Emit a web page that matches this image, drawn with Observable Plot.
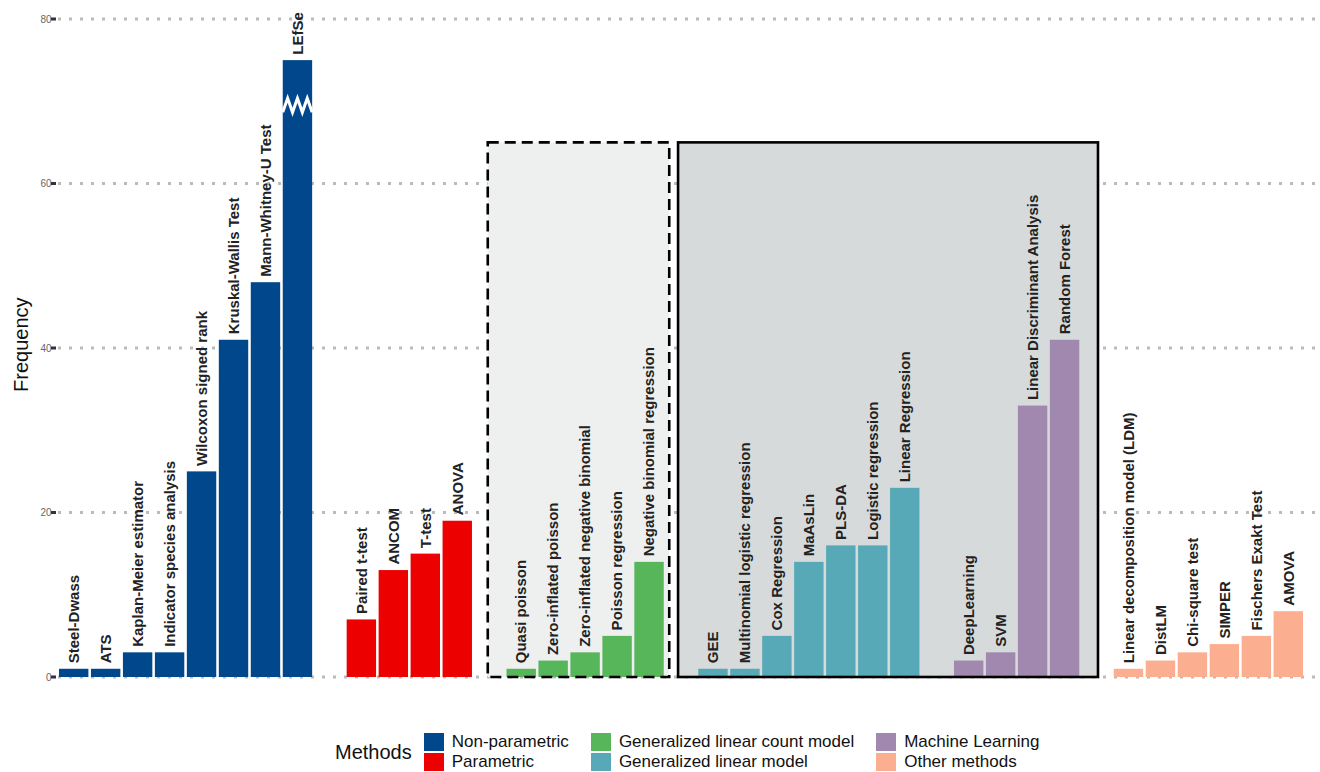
<!DOCTYPE html>
<html><head><meta charset="utf-8">
<script src="https://cdn.jsdelivr.net/npm/d3@7"></script>
<script src="https://cdn.jsdelivr.net/npm/@observablehq/plot@0.6"></script>
<style>
body{margin:0;background:#fff;font-family:"Liberation Sans",Arial,sans-serif}
#legend{display:flex;align-items:center;margin-left:335px;margin-top:32px;font-size:17px;color:#111}
#legend .t{font-size:20px;margin-right:12px}
#legend .col{display:flex;flex-direction:column;margin-right:22px}
#legend .it{display:flex;align-items:center;height:20px}
#legend .sw{width:20px;height:18px;margin-right:8px}
</style></head><body>
<div id="chart"></div>
<div id="legend"></div>
<script>
const groups = ["Non-parametric","Parametric","Generalized linear count model","Generalized linear model","Machine Learning","Other methods"]
const colors = ["#00478b","#ec0000","#57b55a","#58a9b7","#a088ae","#fcae91"]
const methods = [
  ["Steel-Dwass","ATS","Kaplan-Meier estimator","Indicator species analysis","Wilcoxon signed rank","Kruskal-Wallis Test","Mann-Whitney-U Test","LEfSe"],
  ["Paired t-test","ANCOM","T-test","ANOVA"],
  ["Quasi poisson","Zero-inflated poisson","Zero-inflated negative binomial","Poisson regression","Negative binomial regression"],
  ["GEE","Multinomial logistic regression","Cox Regression","MaAsLin","PLS-DA","Logistic regression","Linear Regression"],
  ["DeepLearning","SVM","Linear Discriminant Analysis","Random Forest"],
  ["Linear decomposition model (LDM)","DistLM","Chi-square test","SIMPER","Fischers Exakt Test","AMOVA"]
]
const counts = [
  [1,1,3,3,25,41,48,75],
  [7,13,15,19],
  [1,2,3,5,14],
  [1,1,5,14,16,16,23],
  [2,3,33,41],
  [1,2,3,4,5,8]
]
const yTicks = [0,20,40,60,80]
const boxTop = 65

const data = []
const domain = []
groups.forEach((g,i) => {
  methods[i].forEach((m,j) => { data.push({method:m, n:counts[i][j], group:g}); domain.push(m) })
  if (i < groups.length-1) domain.push("gap"+i)
})

const chart = Plot.plot({
  width: 1320, height: 700,
  marginLeft: 59, marginRight: 17, marginTop: 19, marginBottom: 23,
  x: {domain, padding: 0.08, paddingOuter: 0, axis: null},
  y: {domain: [0,80], ticks: yTicks, label: null, tickSize: 0, tickPadding: 8},
  color: {domain: groups, range: colors},
  style: {fontFamily: "Liberation Sans, Arial, sans-serif", fontSize: "10px", color: "#666"},
  marks: [
    Plot.barY(data, {x: "method", y: "n", fill: "group"}),
    Plot.text(data, {x: "method", y: "n", text: "method", rotate: -90, textAnchor: "start", dy: -6,
      fontWeight: "bold", fontSize: 15, fill: "#222"})
  ]
})
d3.select('#chart').append(() => chart)

// boxes, grid and details drawn with the plot's own scales
const sx = chart.scale("x"), sy = chart.scale("y")
const svg = d3.select(chart)
const bw = sx.bandwidth
const xs = d => sx.apply(d)
const yTop = sy.apply(boxTop), y0 = sy.apply(0)
const first = svg.select("g[aria-label=bar]").node()
yTicks.forEach(t => svg.insert("line", () => first).attr("x1", 58).attr("x2", 1320).attr("y1", sy.apply(t)).attr("y2", sy.apply(t))
  .attr("stroke", "#bbb").attr("stroke-width", 3).attr("stroke-dasharray", "3,8"))
function box(x1, x2, fill, dash) {
  svg.insert("rect", () => first).attr("x", x1).attr("y", yTop).attr("width", x2-x1).attr("height", y0-yTop)
    .attr("fill", fill)
  svg.append("rect").attr("x", x1).attr("y", yTop).attr("width", x2-x1).attr("height", y0-yTop)
    .attr("fill", "none").attr("stroke", "#000").attr("stroke-width", 2.6).attr("stroke-dasharray", dash)
}
box(xs("gap1") + bw*0.45, xs("gap2") + bw*0.1, "#eef0f0", "11,6")
box(xs("gap2") + bw*0.4, xs("gap4") + bw*0.55, "#d6dadb", null)
yTicks.forEach(t => svg.append("rect").attr("x", 51).attr("y", sy.apply(t)-1.5).attr("width", 5).attr("height", 3).attr("fill", "#333"))
svg.append("text").attr("transform", `translate(28,${(yTop+y0)/2 - 65}) rotate(-90)`).attr("text-anchor","middle")
  .attr("font-size", 20).attr("fill", "#111").text("Frequency")
// axis break on LEfSe
const lx = xs("LEfSe"), zy = sy.apply(69.5)
const pts = d3.range(0, 7).map(k => [lx + k*bw/6, zy + (k%2 ? -7 : 7)])
svg.append("path").attr("d", d3.line()(pts)).attr("fill", "none").attr("stroke", "#fff").attr("stroke-width", 3)

// legend
const lg = d3.select("#legend")
lg.append("div").attr("class", "t").text("Methods")
for (let c = 0; c < 3; c++) {
  const col = lg.append("div").attr("class", "col")
  for (let r = 0; r < 2; r++) {
    const i = c*2 + r
    const it = col.append("div").attr("class", "it")
    it.append("div").attr("class", "sw").style("background", colors[i])
    it.append("span").text(groups[i])
  }
}
</script></body></html>
